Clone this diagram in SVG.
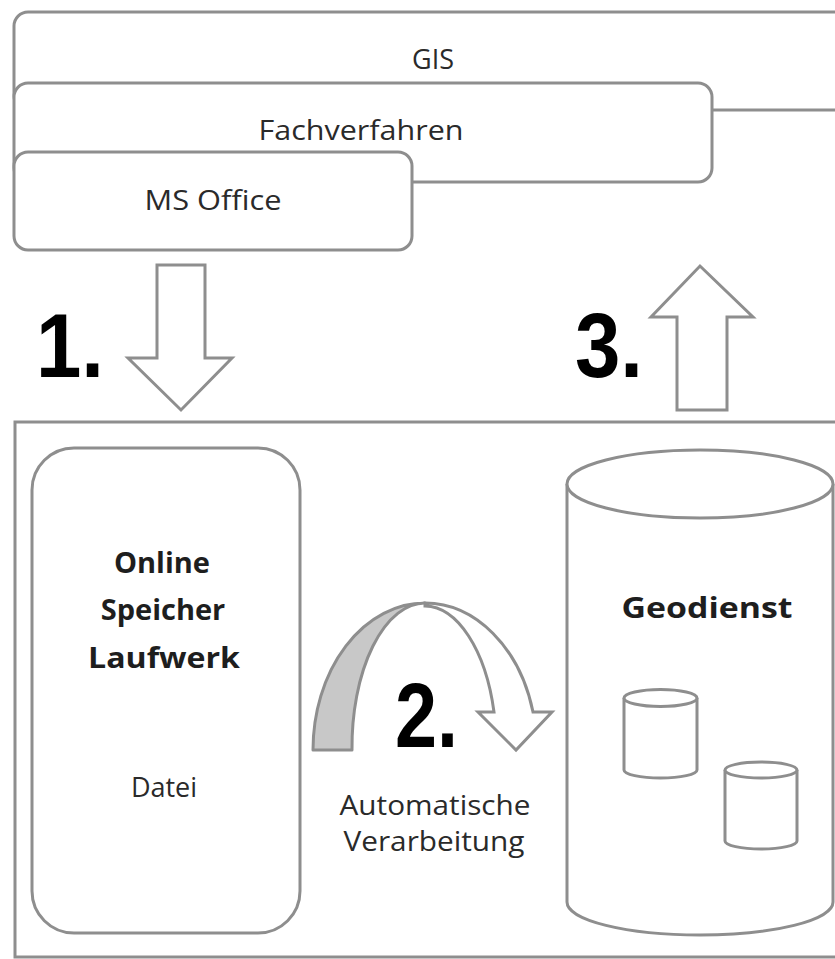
<svg xmlns="http://www.w3.org/2000/svg" width="835" height="959" viewBox="0 0 835 959">
<style>
.box{fill:#fff;stroke:#8e8e8e;stroke-width:3}
.lbl{font-family:"Open Sans","Noto Sans",sans-serif;font-size:27px;fill:#2a2a2a;text-anchor:middle}
.bold{font-family:"Open Sans","Noto Sans",sans-serif;font-size:29px;font-weight:bold;fill:#1e1e1e;text-anchor:middle}
.num{font-family:"Liberation Sans",Arial,sans-serif;font-size:90px;font-weight:bold;fill:#000}
.arrow{fill:#fff;stroke:#8e8e8e;stroke-width:3;stroke-linejoin:miter}
</style>
<rect width="835" height="959" fill="#fff"/>
<g id="gis">
<rect class="box" x="14" y="12" width="840" height="98" rx="14"/>
<text class="lbl" x="433" y="69">GIS</text>
</g>
<g id="fachverfahren">
<rect class="box" x="14" y="83" width="698" height="99" rx="14"/>
<text class="lbl" x="361" y="140" textLength="205" lengthAdjust="spacingAndGlyphs">Fachverfahren</text>
</g>
<g id="msoffice">
<rect class="box" x="14" y="152" width="398" height="98" rx="14"/>
<text class="lbl" x="213" y="210" textLength="137" lengthAdjust="spacingAndGlyphs">MS Office</text>
</g>
<g id="system">
<rect class="box" x="15" y="422" width="840" height="535"/>
</g>
<g id="speicher">
<rect class="box" x="32" y="448" width="268" height="485" rx="42"/>
<text class="bold" x="162" y="573">Online</text>
<text class="bold" x="163" y="620">Speicher</text>
<text class="bold" x="164" y="668" textLength="152" lengthAdjust="spacingAndGlyphs">Laufwerk</text>
<text class="lbl" x="164" y="797">Datei</text>
</g>
<g id="geodienst">
<path class="box" d="M567,484 V902 A133,33 0 0 0 833,902 V484"/>
<ellipse class="box" cx="700" cy="484" rx="133" ry="34"/>
<text class="bold" x="707" y="618" textLength="171" lengthAdjust="spacingAndGlyphs">Geodienst</text>
<g id="db1">
<path class="box" d="M624,698 V770 A36.5,8 0 0 0 697,770 V698"/>
<ellipse class="box" cx="660.5" cy="698" rx="36.5" ry="8.5"/>
</g>
<g id="db2">
<path class="box" d="M725,770 V841 A36,8 0 0 0 797,841 V770"/>
<ellipse class="box" cx="761" cy="770" rx="36" ry="8"/>
</g>
</g>
<g id="connectors">
<polygon class="arrow" points="157,265 205,265 205,358 232,358 181,410 128,358 157,358"/>
<polygon class="arrow" points="677,410 727,410 727,317 753,317 700,266 651,317 677,317"/>
<path d="M313,750 A112,147 0 0 1 425,603 A73,144 0 0 0 352,750 Z" fill="#c8c8c8" stroke="#8e8e8e" stroke-width="3" stroke-linejoin="round"/>
<path class="arrow" d="M425,603 A112,147 0 0 1 533,712 L552,712 L516,750 L478,712 L494,712 A72,142 0 0 0 425,606 Z"/>
</g>
<g id="labels">
<text class="num" x="36" y="377" textLength="68" lengthAdjust="spacingAndGlyphs">1.</text>
<text class="num" x="395" y="747" textLength="63" lengthAdjust="spacingAndGlyphs">2.</text>
<text class="num" x="575" y="377" textLength="68" lengthAdjust="spacingAndGlyphs">3.</text>
<text class="lbl" x="435" y="815" textLength="191" lengthAdjust="spacingAndGlyphs">Automatische</text>
<text class="lbl" x="434" y="851" textLength="181" lengthAdjust="spacingAndGlyphs">Verarbeitung</text>
</g>
</svg>
